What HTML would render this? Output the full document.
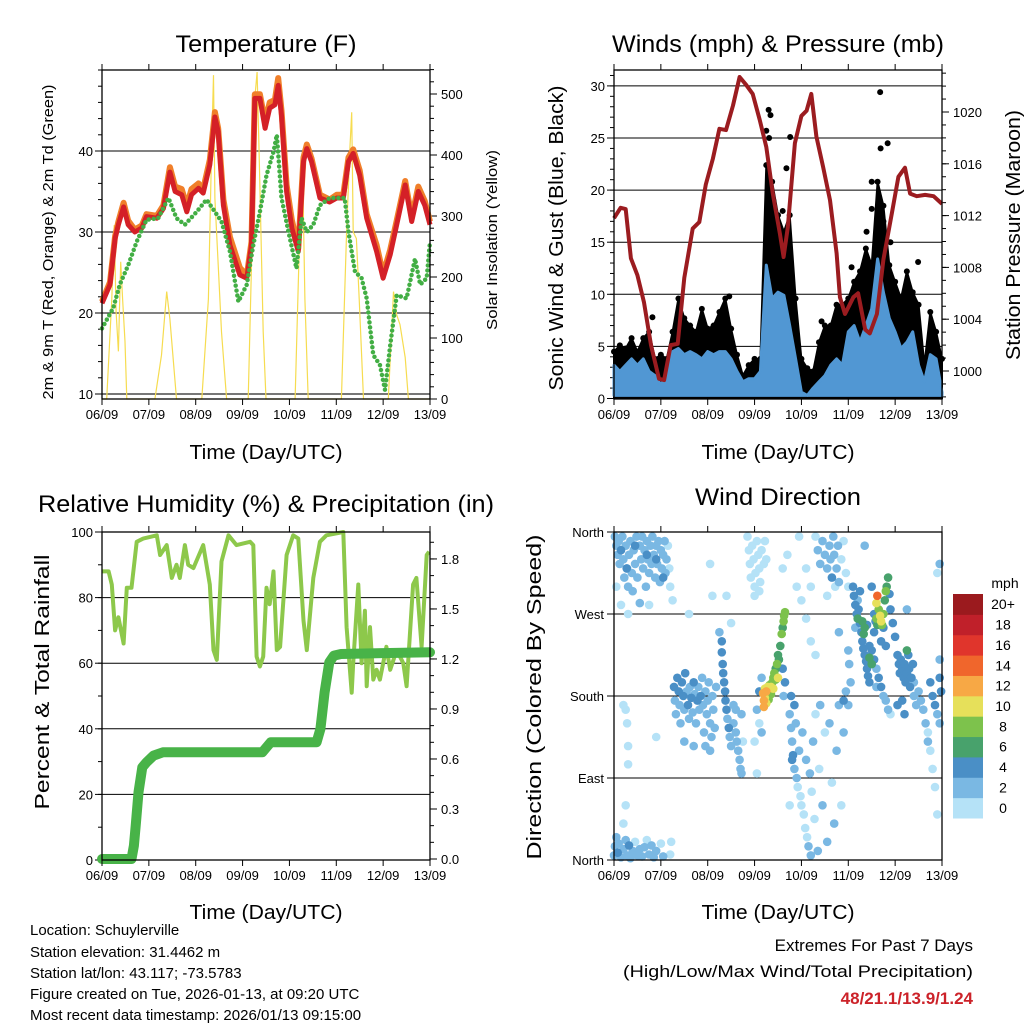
<!DOCTYPE html>
<html>
<head>
<meta charset="utf-8">
<style>
  html,body{margin:0;padding:0;background:#fff;}
  svg{display:block;font-family:"Liberation Sans",Arial,sans-serif;}
</style>
</head>
<body>
<svg id="chart" width="1024" height="1024" viewBox="0 0 1024 1024" xmlns="http://www.w3.org/2000/svg">
  <rect x="0" y="0" width="1024" height="1024" fill="#fff"/>
  <text x="266" y="52" font-size="24" text-anchor="middle" textLength="181" lengthAdjust="spacingAndGlyphs">Temperature (F)</text>
  <text x="778" y="52" font-size="24" text-anchor="middle" textLength="332" lengthAdjust="spacingAndGlyphs">Winds (mph) &amp; Pressure (mb)</text>
  <text x="266" y="512" font-size="24" text-anchor="middle" textLength="456" lengthAdjust="spacingAndGlyphs">Relative Humidity (%) &amp; Precipitation (in)</text>
  <text x="778" y="505" font-size="24" text-anchor="middle" textLength="166" lengthAdjust="spacingAndGlyphs">Wind Direction</text>
  <text x="266" y="459" font-size="20" text-anchor="middle" textLength="153" lengthAdjust="spacingAndGlyphs">Time (Day/UTC)</text>
  <text x="778" y="459" font-size="20" text-anchor="middle" textLength="153" lengthAdjust="spacingAndGlyphs">Time (Day/UTC)</text>
  <text x="266" y="919" font-size="20" text-anchor="middle" textLength="153" lengthAdjust="spacingAndGlyphs">Time (Day/UTC)</text>
  <text x="778" y="919" font-size="20" text-anchor="middle" textLength="153" lengthAdjust="spacingAndGlyphs">Time (Day/UTC)</text>
  <text transform="translate(53,242) rotate(-90)" font-size="15" text-anchor="middle" textLength="315" lengthAdjust="spacingAndGlyphs">2m &amp; 9m T (Red, Orange) &amp; 2m Td (Green)</text>
  <text transform="translate(497,240) rotate(-90)" font-size="15" text-anchor="middle" textLength="180" lengthAdjust="spacingAndGlyphs">Solar Insolation (Yellow)</text>
  <text transform="translate(563,238) rotate(-90)" font-size="20" text-anchor="middle" textLength="305" lengthAdjust="spacingAndGlyphs">Sonic Wind &amp; Gust (Blue, Black)</text>
  <text transform="translate(1020,235) rotate(-90)" font-size="20" text-anchor="middle" textLength="250" lengthAdjust="spacingAndGlyphs">Station Pressure (Maroon)</text>
  <text transform="translate(49,682) rotate(-90)" font-size="20" text-anchor="middle" textLength="255" lengthAdjust="spacingAndGlyphs">Percent &amp; Total Rainfall</text>
  <text transform="translate(541,697) rotate(-90)" font-size="20" text-anchor="middle" textLength="325" lengthAdjust="spacingAndGlyphs">Direction (Colored By Speed)</text>
  <g font-size="15">
    <text x="30" y="935">Location: Schuylerville</text>
    <text x="30" y="957">Station elevation: 31.4462 m</text>
    <text x="30" y="978">Station lat/lon: 43.117; -73.5783</text>
    <text x="30" y="999">Figure created on Tue, 2026-01-13, at 09:20 UTC</text>
    <text x="30" y="1020">Most recent data timestamp: 2026/01/13 09:15:00</text>
  </g>
  <g font-size="17" text-anchor="end">
    <text x="973" y="951">Extremes For Past 7 Days</text>
    <text x="973" y="977" textLength="350" lengthAdjust="spacingAndGlyphs">(High/Low/Max Wind/Total Precipitation)</text>
    <text x="973" y="1004" font-weight="bold" fill="#cc2229">48/21.1/13.9/1.24</text>
  </g>
  <g id="layer"></g>
</svg>
<script>
const tDays = [0,0.17,0.28,0.35,0.46,0.56,0.70,0.85,0.95,1.17,1.31,1.45,1.56,1.70,1.81,1.91,2.06,2.16,2.30,2.41,2.48,2.59,2.73,2.94,3.09,3.19,3.26,3.37,3.48,3.58,3.69,3.76,3.83,3.94,4.05,4.19,4.30,4.37,4.47,4.65,4.86,5.01,5.15,5.26,5.36,5.50,5.65,5.86,6.00,6.15,6.29,6.47,6.61,6.75,6.89,7.0];
const redTemp = [21.2,23.5,29.2,30.9,33.1,30.9,30.0,30.5,31.9,31.7,32.9,37.4,35.0,34.6,32.5,34.6,35.4,34.8,38.3,44.2,42.4,33.3,28.4,24.7,24.3,28.4,46.5,46.5,42.8,45.3,45.7,48.1,44.4,35.0,30.5,27.6,38.7,40.3,38.7,34.2,33.7,34.2,34.2,38.7,39.7,37.0,31.7,27.6,24.3,27.2,30.9,35.8,31.3,35.0,33.3,30.9];
const orangeTemp = [21.4,23.8,29.5,31.3,33.6,31.4,30.3,30.8,32.2,32.0,33.3,38.0,35.6,35.3,33.2,35.3,36.0,35.3,38.9,44.8,42.8,34.0,29.4,25.6,24.6,28.8,47.0,47.0,43.6,46.0,46.3,49.0,45.0,35.8,31.5,28.0,39.2,40.8,39.1,34.6,34.0,34.6,34.6,39.2,40.2,37.6,32.2,28.4,24.8,27.8,31.4,36.3,31.8,35.6,33.8,31.3];
const tdDays = [0,0.24,0.38,0.56,0.74,0.95,1.20,1.42,1.59,1.77,2.02,2.23,2.41,2.55,2.73,2.91,3.09,3.23,3.37,3.51,3.66,3.73,3.83,3.98,4.15,4.26,4.37,4.51,4.65,4.86,5.08,5.18,5.26,5.40,5.54,5.65,5.79,5.93,6.04,6.15,6.29,6.50,6.68,6.79,6.93,7.0];
const dewTemp = [18.1,20.6,23.5,25.9,28.8,31.5,31.7,34.2,31.7,30.9,32.5,34.0,32.5,31.3,27.6,21.4,23.5,28.4,32.5,37.0,39.9,42.0,34.2,30.0,25.5,31.7,30.0,30.9,33.3,34.2,34.2,34.2,30.0,25.1,24.3,21.8,14.8,13.6,10.5,16.0,22.2,21.8,26.7,23.5,24.3,28.8];
const solarDays = [0,0.10,0.21,0.26,0.30,0.35,0.40,0.44,0.49,0.53,1.13,1.27,1.38,1.45,1.59,2.13,2.27,2.34,2.38,2.41,2.48,2.55,2.66,3.12,3.19,3.26,3.31,3.36,3.44,3.50,4.12,4.22,4.28,4.33,4.40,5.11,5.22,5.29,5.33,5.36,5.43,5.49,5.58,6.11,6.22,6.29,6.36,6.47,6.54,7.0];
const solarVals = [0,0,164,285,143,78,225,164,94,0,0,72,176,131,0,0,164,411,531,329,220,110,0,0,220,493,536,384,110,0,0,274,384,164,0,0,274,411,470,274,263,164,0,0,176,138,122,68,0,0];
const tempTicks = [10,20,30,40];
const solarTicks = [0,100,200,300,400,500];
const dayLabels = ["06/09","07/09","08/09","09/09","10/09","11/09","12/09","13/09"];

const windHi = [3.2,2.6,3.2,3.8,3.2,3.8,2.6,2.2,1.3,2.2,4.5,4.8,4.2,4.5,4.2,3.8,4.5,4.2,4.5,4.5,3.8,2.6,1.6,1.9,1.9,2.6,12.8,9.6,10.2,9.9,7.0,3.8,0.6,0.3,1.0,1.6,2.2,3.2,3.8,3.2,6.4,7.0,5.4,7.0,8.6,13.4,10.2,7.7,6.4,4.8,5.4,6.4,3.2,1.6,4.2,3.8,0.6];
const gustVals = [4.5,5.1,4.8,5.8,4.5,5.8,6.4,3.8,4.2,3.8,6.4,9.6,7.7,7.0,6.4,8.6,6.7,7.0,8.3,9.6,6.7,4.2,2.2,3.2,3.8,3.8,22.4,20.8,17.6,16.0,17.6,9.6,3.8,2.9,2.6,5.4,7.0,7.0,9.0,9.0,9.6,11.2,12.2,14.4,12.8,20.8,18.5,12.8,11.2,9.6,12.2,10.2,9.0,3.2,8.3,6.4,3.8];
const extraGustDays = [3.3,3.34,3.25,3.31,3.76,3.68,5.68,5.84,5.69,5.5,5.5,5.39,5.07,6.49,4.43,2.46,0.82,3.4,3.6,5.75,5.9];
const extraGustVals = [27.7,27.2,25.7,25.0,25.1,22.1,29.4,24.5,24.0,20.8,18.2,16.0,12.6,13.1,7.4,9.8,7.8,19.0,18.0,17.0,15.0];
const presDays = [0,0.14,0.25,0.36,0.5,0.64,0.79,0.96,1.07,1.21,1.36,1.5,1.68,1.82,1.96,2.11,2.25,2.39,2.54,2.68,2.82,2.96,3.11,3.25,3.39,3.54,3.62,3.71,3.86,4.0,4.11,4.21,4.32,4.46,4.61,4.75,4.82,4.93,5.11,5.21,5.36,5.46,5.61,5.75,5.93,6.07,6.21,6.32,6.46,6.64,6.82,7.0];
const presVals = [1011.8,1012.6,1012.5,1008.7,1007.4,1005.3,1002.0,999.4,999.3,1002.0,1002.1,1007.2,1011.0,1011.5,1014.4,1016.4,1018.7,1018.6,1020.5,1022.7,1022.1,1021.4,1019.4,1017.3,1013.7,1010.6,1008.8,1011.1,1017.6,1019.7,1020.1,1021.4,1018.1,1015.8,1013.2,1009.1,1005.7,1004.4,1005.7,1006.0,1003.2,1002.9,1004.4,1008.6,1012.2,1015.0,1015.7,1013.7,1013.5,1013.6,1013.5,1012.9];
const windTicks = [0,5,10,15,20,25,30];
const presTicks = [1000,1004,1008,1012,1016,1020];

const rhDays = [0,0.14,0.21,0.28,0.35,0.46,0.53,0.63,0.74,0.88,1.17,1.24,1.38,1.49,1.59,1.66,1.77,1.84,1.95,2.16,2.30,2.38,2.45,2.55,2.70,2.87,3.16,3.23,3.30,3.37,3.44,3.51,3.58,3.66,3.73,3.80,3.94,4.08,4.19,4.30,4.37,4.51,4.65,4.79,5.15,5.22,5.33,5.36,5.47,5.54,5.61,5.65,5.72,5.79,5.86,5.93,6.07,6.15,6.29,6.43,6.50,6.64,6.71,6.82,6.93,6.98];
const rhVals = [88,88,84,70,74,66,83,83,97,98,99,93,96,86,90,86,96,90,89,96,84,64,61,91,99,96,97,96,62,59,62,83,78,88,64,65,93,99,98,73,64,86,97,99,100,71,51,60,84,60,76,53,71,55,58,55,65,58,64,60,53,84,86,65,93,94];
const precipDays = [0,0.63,0.68,0.72,0.78,0.86,0.95,1.1,1.3,3.42,3.6,4.58,4.66,4.75,4.85,4.95,5.1,6.0,7.0];
const precipVals = [0,0,0.08,0.2,0.4,0.55,0.58,0.62,0.64,0.64,0.70,0.70,0.78,1.0,1.18,1.22,1.23,1.235,1.24];
const rhTicks = [0,20,40,60,80,100];
const precipTicks = [0.0,0.3,0.6,0.9,1.2,1.5,1.8];

const dirObs = [
[0.02,355,2],[0.05,345,2],[0.08,335,3],[0.1,350,2],[0.12,325,2],[0.15,340,4],[0.18,355,2],[0.2,330,2],[0.22,310,2],[0.25,345,3],[0.28,320,3],[0.3,300,2],[0.32,335,2],[0.35,350,2],[0.38,315,2],[0.4,295,3],[0.42,340,2],[0.45,325,2],[0.48,355,2],[0.5,310,2],[0.55,345,3],[0.58,330,2],[0.6,355,2],[0.62,320,2],[0.65,340,3],[0.68,300,2],[0.7,350,2],[0.72,330,3],[0.75,315,2],[0.78,345,2],[0.8,325,3],[0.82,355,2],[0.85,335,2],[0.88,310,2],[0.9,345,2],[0.92,325,3],[0.95,350,2],[0.98,305,2],[1.0,340,2],[1.02,320,3],[1.05,335,2],[1.08,350,2],[1.1,315,2],[1.12,330,2],[1.15,345,1],[1.18,320,1],[1.2,300,1],[1.25,285,1],[0.05,300,1],[0.15,280,1],[0.3,270,1],[0.55,282,2],[0.75,280,1],[0.27,320,4],[0.7,335,4],[0.45,345,4],[0.9,330,4],[1.05,310,4],
[0.0,5,2],[0.02,15,3],[0.05,25,2],[0.08,8,4],[0.1,18,2],[0.15,3,3],[0.2,12,2],[0.25,22,2],[0.28,5,3],[0.32,16,4],[0.35,2,2],[0.4,10,2],[0.45,20,1],[0.5,5,2],[0.55,12,3],[0.6,4,2],[0.65,14,2],[0.7,22,1],[0.75,6,2],[0.8,16,2],[0.85,3,3],[0.9,10,2],[1.0,18,1],[1.05,4,2],[1.2,6,1],[1.22,20,1],[0.25,60,1],
[0.3,105,1],[0.28,150,1],[0.25,165,1],[0.2,170,1],[0.9,135,1],[0.2,40,1],[0.3,125,1],
[1.28,190,4],[1.3,175,3],[1.32,160,3],[1.35,200,4],[1.38,185,4],[1.4,170,3],[1.42,150,2],[1.45,195,4],[1.48,180,4],[1.5,165,3],[1.52,205,4],[1.55,185,3],[1.58,170,4],[1.6,155,2],[1.62,190,3],[1.65,178,4],[1.68,162,3],[1.7,195,4],[1.72,182,3],[1.75,150,2],[1.78,175,4],[1.8,190,3],[1.82,165,3],[1.85,180,4],[1.88,200,3],[1.9,170,2],[1.92,140,2],[1.95,185,3],[1.98,160,3],[2.0,175,2],[2.02,195,3],[2.05,150,3],[2.08,135,2],[2.1,180,2],[2.12,165,3],[2.15,145,2],[2.18,190,3],[1.5,130,2],[1.7,125,2],[1.95,125,2],[2.05,120,2],
[2.3,240,4],[2.3,228,4],[2.32,215,4],[2.33,205,4],[2.35,195,4],[2.37,185,4],[2.38,175,4],[2.4,165,4],[2.42,155,3],[2.45,145,4],[2.47,135,3],[2.5,125,3],[2.55,150,3],[2.6,140,2],[2.62,130,2],[2.65,120,2],[2.68,110,2],[2.7,100,3],[2.72,95,3],[2.55,170,3],[2.6,165,2],[2.72,160,2],[2.75,130,1],[2.25,250,3],
[2.85,355,1],[2.88,340,0],[2.9,325,1],[2.92,310,0],[2.95,345,1],[2.98,330,0],[3.0,300,1],[3.02,315,0],[3.05,350,1],[3.08,335,1],[3.1,320,0],[3.12,305,1],[3.15,340,0],[3.2,325,1],[3.22,350,1],[3.25,330,0],[3.0,290,0],[3.1,295,1],
[3.1,185,4],[3.15,200,3],[3.05,165,2],[3.1,150,1],[3.15,140,2],[3.6,210,4],[3.65,195,4],[3.62,180,3],
[3.18,183,12],[3.2,175,12],[3.22,178,11],[3.22,188,10],[3.25,185,12],[3.25,172,11],[3.28,190,10],[3.28,180,9],[3.3,186,9],[3.32,192,8],[3.35,190,10],[3.38,195,9],[3.4,200,8],[3.42,205,9],[3.45,210,7],[3.45,198,8],[3.48,215,8],[3.5,225,6],[3.52,220,7],[3.55,235,7],[3.58,248,8],[3.6,255,7],[3.62,262,8],[3.63,268,9],[3.65,272,8],[3.2,168,13],[3.4,188,10],[3.35,182,9],[3.3,176,8],[3.5,200,10],
[3.75,160,2],[3.78,145,3],[3.8,130,2],[3.82,115,4],[3.85,100,3],[3.88,150,2],[3.9,90,2],[3.92,80,1],[3.95,120,2],[3.98,70,1],[4.0,60,1],[4.02,140,2],[4.05,50,1],[4.08,35,1],[4.1,110,3],[4.12,25,1],[4.15,15,2],[4.18,95,2],[4.2,5,2],[4.22,75,1],[4.25,130,2],[4.28,45,1],[4.3,160,1],[4.35,10,2],[4.38,100,1],[4.4,170,2],[4.45,60,2],[4.5,140,1],[4.55,20,3],[4.6,150,2],[4.65,85,1],[4.7,40,2],[4.75,120,2],[4.8,170,2],[4.85,60,1],[4.9,140,2],[3.78,180,4],[3.85,170,4],[3.8,110,4],[3.75,60,1],
[4.3,355,1],[4.35,340,2],[4.4,325,2],[4.45,350,2],[4.5,335,3],[4.55,320,2],[4.6,345,2],[4.62,330,3],[4.65,310,4],[4.68,355,2],[4.7,335,2],[4.72,300,1],[4.75,320,2],[4.78,345,2],[4.8,305,2],[4.85,330,1],[4.9,350,1],[4.95,315,1],[5.0,300,1],[4.55,290,1],[4.2,300,1],[4.1,320,1],
[5.1,300,4],[5.12,290,4],[5.15,280,4],[5.18,270,4],[5.2,265,6],[5.22,275,4],[5.25,260,4],[5.28,250,4],[5.3,240,4],[5.32,232,4],[5.35,225,4],[5.38,218,4],[5.4,210,4],[5.42,202,4],[5.45,195,4],[5.3,262,6],[5.35,255,6],[5.33,248,7],[5.4,258,5],[5.45,222,6],[5.5,215,6],[5.2,285,3],[5.25,295,4],[5.15,255,3],[5.0,230,3],[5.02,215,3],[5.05,195,2],[4.95,185,3],[4.9,175,4],[5.0,170,3],
[5.62,290,14],[5.6,282,10],[5.65,275,9],[5.68,268,10],[5.7,262,11],[5.72,258,9],[5.75,270,8],[5.78,285,7],[5.8,295,8],[5.82,300,7],[5.85,310,6],[5.88,292,5],[5.6,265,8],[5.62,258,7],[5.75,255,5],[5.55,270,5],[5.58,262,4],[5.9,275,4],[5.95,260,4],[6.0,245,4],[5.5,300,4],[5.55,250,4],[5.7,240,4],[5.8,235,4],[5.45,235,4],
[5.5,230,4],[5.55,220,4],[5.6,210,3],[5.65,200,4],[5.7,190,4],[5.75,180,3],[5.8,175,2],[5.85,165,2],[5.9,160,1],
[6.05,225,4],[6.08,215,4],[6.1,205,4],[6.12,220,4],[6.15,210,4],[6.18,200,4],[6.2,215,5],[6.22,195,4],[6.25,205,4],[6.28,225,4],[6.3,210,4],[6.32,190,4],[6.35,200,4],[6.38,215,4],[6.4,195,3],[6.15,175,4],[6.2,160,4],[6.4,180,2],[6.45,170,2],[6.5,185,3],[6.55,175,3],[6.6,165,2],[6.65,150,2],[6.7,140,1],[6.75,195,4],[6.8,180,4],[6.85,170,4],[6.9,160,3],[6.95,150,3],[6.98,185,4],[6.7,130,2],[6.75,120,1],[6.8,100,1],[6.85,80,1],[6.9,50,1],[6.9,315,1],[6.95,200,4],[6.05,170,5],[6.25,230,6],[6.25,275,2],
[2.05,325,1],[2.1,290,1],[1.6,270,1],[2.4,290,1],[2.5,260,1],[3.0,130,1],[3.05,95,1],[3.6,320,1],[3.7,335,1],[3.9,300,1],[4.0,285,1],[4.1,265,1],[4.2,240,1],[4.3,225,1],[3.95,355,1],[5.35,345,3],[6.95,325,2],[6.95,220,2],[5.6,190,2],[4.8,250,2]
];
const dirTickDeg = [0,90,180,270,360];
const dirTickLabels = ["North","East","South","West","North"];
const speedBins = ["0","2","4","6","8","10","12","14","16","18","20+"];
const speedColors = ["#b5e2f7","#7ab8e3","#4a8fc6","#48a26c","#7dc24c","#e6e05a","#f7a845","#f0662c","#e0352c","#c0202a","#9b1a1e"];

const NS = "http://www.w3.org/2000/svg";
const layer = document.getElementById("layer");
function mk(parent, tag, attrs, name) {
  const el = document.createElementNS(NS, tag);
  for (const k in attrs) el.setAttribute(k, attrs[k]);
  
  
  parent.appendChild(el);
  return el;
}
function pathFrom(xs, ys, fx, fy) {
  let d = "";
  for (let i = 0; i < xs.length; i++) d += (i ? "L" : "M") + fx(xs[i]).toFixed(1) + "," + fy(ys[i]).toFixed(1);
  return d;
}
function txt(parent, x, y, s, size, anchor, name) {
  const t = mk(parent, "text", {x: x, y: y, "font-size": size, "text-anchor": anchor}, name);
  t.textContent = s;
  return t;
}
const PW = 328;
function xAxis(g, x0, yb, ytop, prefix) {
  for (let i = 0; i < dayLabels.length; i++) {
    const x = x0 + i * PW / 7;
    mk(g, "line", {x1: x, x2: x, y1: yb, y2: yb + 6, stroke: "#000", "stroke-width": 1}, prefix + "-x-tick");
    mk(g, "line", {x1: x, x2: x, y1: ytop, y2: ytop - 6, stroke: "#000", "stroke-width": 1}, prefix + "-x-tick-top");
    txt(g, x, yb + 20, dayLabels[i], 13, "middle", prefix + "-x-tick-label");
  }
}
function frame(g, x0, y0, h, name) {
  mk(g, "rect", {x: x0, y: y0, width: PW, height: h, fill: "none", stroke: "#000", "stroke-width": 1.3}, name);
}

(function () {
  const g = mk(layer, "g", {}, "temperature-panel");
  const x0 = 102, y0 = 70, yb = 399;
  const xT = d => x0 + d * PW / 7;
  const yT = v => 394 - (v - 10) * 8.1;
  const yS = v => 399 - v * 0.61;
  tempTicks.forEach(v => {
    mk(g, "line", {x1: x0, x2: x0 + PW, y1: yT(v), y2: yT(v), stroke: v === 10 ? "#777" : "#000", "stroke-width": v === 10 ? 2 : 1}, "temp-gridline");
    mk(g, "line", {x1: x0 - 7, x2: x0, y1: yT(v), y2: yT(v), stroke: "#000"}, "temp-y-tick");
    txt(g, x0 - 9, yT(v) + 5, String(v), 13, "end", "temp-y-tick-label");
  });
  for (let v = 10; v <= 50; v += 2) mk(g, "line", {x1: x0 - 4, x2: x0, y1: yT(v), y2: yT(v), stroke: "#000"}, "temp-y-minor-tick");
  solarTicks.forEach(v => {
    mk(g, "line", {x1: x0 + PW, x2: x0 + PW + 7, y1: yS(v), y2: yS(v), stroke: "#000"}, "solar-y-tick");
    txt(g, x0 + PW + 11, yS(v) + 5, String(v), 13, "start", "solar-y-tick-label");
  });
  for (let v = 0; v <= 540; v += 20) mk(g, "line", {x1: x0 + PW, x2: x0 + PW + 4, y1: yS(v), y2: yS(v), stroke: "#000"}, "solar-y-minor-tick");
  mk(g, "path", {d: pathFrom(solarDays, solarVals, xT, yS), fill: "none", stroke: "#f6dc50", "stroke-width": 1.2}, "solar-line");
  mk(g, "path", {d: pathFrom(tDays, orangeTemp, xT, yT), fill: "none", stroke: "#f07f2a", "stroke-width": 6, "stroke-linejoin": "round"}, "temp-9m-line");
  mk(g, "path", {d: pathFrom(tDays, redTemp, xT, yT), fill: "none", stroke: "#d42027", "stroke-width": 5, "stroke-linejoin": "round"}, "temp-2m-line");
  mk(g, "path", {d: pathFrom(tdDays, dewTemp, xT, yT), fill: "none", stroke: "#42ae44", "stroke-width": 4.5, "stroke-dasharray": "0 5", "stroke-linecap": "round"}, "dewpoint-line");
  frame(g, x0, y0, yb - y0, "temp-plot-frame");
  xAxis(g, x0, yb, y0, "temp");
})();

(function () {
  const g = mk(layer, "g", {}, "winds-panel");
  const x0 = 614, y0 = 70, yb = 399;
  const xW = d => x0 + d * PW / 7;
  const yW = v => 398.5 - v * 10.42;
  const yP = p => 371 - (p - 1000) * 12.95;
  windTicks.forEach(v => {
    if (v > 0) mk(g, "line", {x1: x0, x2: x0 + PW, y1: yW(v), y2: yW(v), stroke: "#000", "stroke-width": 1}, "wind-gridline");
    mk(g, "line", {x1: x0 - 7, x2: x0, y1: yW(v), y2: yW(v), stroke: "#000"}, "wind-y-tick");
    txt(g, x0 - 9, yW(v) + 5, String(v), 13, "end", "wind-y-tick-label");
  });
  for (let v = 0; v <= 31; v += 1) mk(g, "line", {x1: x0 - 4, x2: x0, y1: yW(v), y2: yW(v), stroke: "#000"}, "wind-y-minor-tick");
  presTicks.forEach(v => {
    mk(g, "line", {x1: x0 + PW, x2: x0 + PW + 7, y1: yP(v), y2: yP(v), stroke: "#000"}, "pressure-y-tick");
    txt(g, x0 + PW + 11, yP(v) + 5, String(v), 13, "start", "pressure-y-tick-label");
  });
  for (let v = 998; v <= 1023; v += 1) mk(g, "line", {x1: x0 + PW, x2: x0 + PW + 4, y1: yP(v), y2: yP(v), stroke: "#000"}, "pressure-y-minor-tick");
  const wDays = gustVals.map((_, i) => i * 0.125);
  let d = pathFrom(wDays, gustVals, xW, yW) + "L" + xW(7) + "," + yW(0) + "L" + xW(0) + "," + yW(0) + "Z";
  mk(g, "path", {d: d, fill: "#000", stroke: "#000", "stroke-width": 2, "stroke-linejoin": "round"}, "gust-area");
  for (let i = 0; i < wDays.length; i++) {
    mk(g, "circle", {cx: xW(wDays[i]), cy: yW(gustVals[i]), r: 3, fill: "#000"}, "gust-point");
  }
  for (let i = 0; i < extraGustDays.length; i++) {
    mk(g, "circle", {cx: xW(extraGustDays[i]), cy: yW(extraGustVals[i]), r: 3, fill: "#000"}, "gust-point");
  }
  const lows = windHi.map(() => 0.3);
  let d2 = pathFrom(wDays, windHi, xW, yW);
  for (let i = wDays.length - 1; i >= 0; i--) d2 += "L" + xW(wDays[i]).toFixed(1) + "," + yW(lows[i]).toFixed(1);
  mk(g, "path", {d: d2 + "Z", fill: "#5197d3", stroke: "#5197d3", "stroke-width": 3, "stroke-linejoin": "round"}, "wind-area");
  mk(g, "path", {d: pathFrom(presDays, presVals, xW, yP), fill: "none", stroke: "#9b1c20", "stroke-width": 4, "stroke-linejoin": "round"}, "pressure-line");
  frame(g, x0, y0, yb - y0, "wind-plot-frame");
  xAxis(g, x0, yb, y0, "wind");
})();

(function () {
  const g = mk(layer, "g", {}, "humidity-panel");
  const x0 = 102, y0 = 532, yb = 860;
  const xR = d => x0 + d * PW / 7;
  const yR = v => 860 - v * 3.28;
  const yPr = v => 859 - v * 166.7;
  rhTicks.forEach(v => {
    if (v > 0 && v < 100) mk(g, "line", {x1: x0, x2: x0 + PW, y1: yR(v), y2: yR(v), stroke: "#000", "stroke-width": 1}, "rh-gridline");
    mk(g, "line", {x1: x0 - 7, x2: x0, y1: yR(v), y2: yR(v), stroke: "#000"}, "rh-y-tick");
    txt(g, x0 - 9, yR(v) + 5, String(v), 13, "end", "rh-y-tick-label");
  });
  for (let v = 0; v <= 100; v += 10) mk(g, "line", {x1: x0 - 4, x2: x0, y1: yR(v), y2: yR(v), stroke: "#000"}, "rh-y-minor-tick");
  precipTicks.forEach(v => {
    mk(g, "line", {x1: x0 + PW, x2: x0 + PW + 7, y1: yPr(v), y2: yPr(v), stroke: "#000"}, "precip-y-tick");
    txt(g, x0 + PW + 11, yPr(v) + 5, v.toFixed(1), 13, "start", "precip-y-tick-label");
  });
  for (let v = 0; v <= 1.95; v += 0.1) mk(g, "line", {x1: x0 + PW, x2: x0 + PW + 4, y1: yPr(v), y2: yPr(v), stroke: "#000"}, "precip-y-minor-tick");
  mk(g, "path", {d: pathFrom(rhDays, rhVals, xR, yR), fill: "none", stroke: "#8dc84b", "stroke-width": 4, "stroke-linejoin": "round"}, "rh-line");
  mk(g, "path", {d: pathFrom(precipDays, precipVals, xR, yPr), fill: "none", stroke: "#48b348", "stroke-width": 10, "stroke-linejoin": "round", "stroke-linecap": "round"}, "precip-line");
  frame(g, x0, y0, yb - y0, "rh-plot-frame");
  xAxis(g, x0, yb, y0, "rh");
})();

(function () {
  const g = mk(layer, "g", {}, "wind-direction-panel");
  const x0 = 614, y0 = 532, yb = 860;
  const xD = d => x0 + d * PW / 7;
  const yD = deg => 860 - deg * 328 / 360;
  dirTickDeg.forEach((v, i) => {
    if (v > 0 && v < 360) mk(g, "line", {x1: x0, x2: x0 + PW, y1: yD(v), y2: yD(v), stroke: "#000", "stroke-width": 1}, "dir-gridline");
    mk(g, "line", {x1: x0 - 7, x2: x0, y1: yD(v), y2: yD(v), stroke: "#000"}, "dir-y-tick");
    txt(g, x0 - 10, yD(v) + 5, dirTickLabels[i], 13, "end", "dir-y-tick-label");
  });
  const sorted = dirObs.slice().sort((a, b) => a[2] - b[2]);
  sorted.forEach(o => {
    const bin = Math.min(10, Math.floor(o[2] / 2));
    mk(g, "circle", {cx: xD(o[0]).toFixed(1), cy: yD(o[1]).toFixed(1), r: 4.3, fill: speedColors[bin]}, "direction-point");
  });
  frame(g, x0, y0, yb - y0, "dir-plot-frame");
  xAxis(g, x0, yb, y0, "dir");
  const lg = mk(layer, "g", {}, "speed-colorbar");
  txt(lg, 1005, 588, "mph", 14, "middle", "colorbar-title");
  const bh = 224 / 11;
  for (let i = 0; i < speedBins.length; i++) {
    const yy = 818 - (i + 1) * bh;
    mk(lg, "rect", {x: 953, y: yy, width: 30, height: bh + 0.5, fill: speedColors[i]}, "colorbar-box");
    txt(lg, 1003, yy + bh / 2 + 5, speedBins[i], 14, "middle", "colorbar-label");
  }
})();
</script>
</body>
</html>
